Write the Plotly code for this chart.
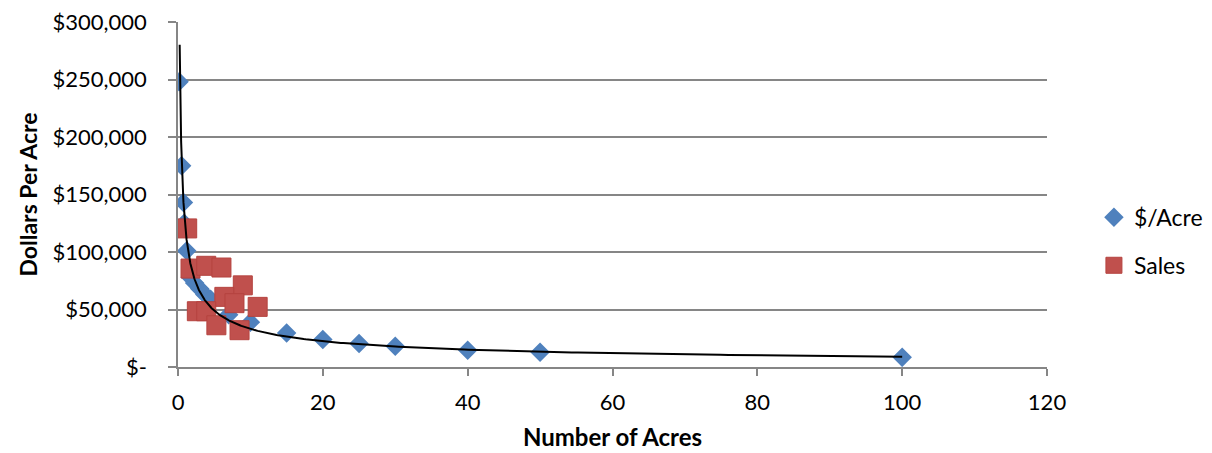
import numpy as np
import plotly.graph_objects as go

# $/Acre series
acres = [0.15, 0.5, 0.75, 0.85, 1.2, 1.7, 2.3, 3.0, 3.7, 4.5, 7.0, 10, 15, 20, 25, 30, 40, 50, 100]
dollars_per_acre = [248000, 175000, 143000, 125000, 101000, 78000, 73000, 68000, 63000, 59000,
                    45500, 39000, 29500, 24000, 20500, 18000, 14500, 12800, 8400]

# Sales series
sales_acres = [1.27, 1.73, 3.9, 6.0, 8.95, 6.4, 7.8, 11.0, 2.6, 3.9, 5.3, 8.5]
sales_dpa = [120500, 85600, 88000, 86500, 71000, 61000, 55500, 52300, 48500, 48500, 36300, 32000]

# power trendline coefficients y = A * x^B
TREND_A = 122000
TREND_B = -0.566
TREND_X_MIN = 0.23
TREND_X_MAX = 100

y_tickvals = [0, 50000, 100000, 150000, 200000, 250000, 300000]
y_ticktext = ["$-", "$50,000", "$100,000", "$150,000", "$200,000", "$250,000", "$300,000"]
x_tickvals = [0, 20, 40, 60, 80, 100, 120]

trend_x = np.logspace(np.log10(TREND_X_MIN), np.log10(TREND_X_MAX), 400)
trend_y = TREND_A * trend_x ** TREND_B

FONT = "Lato, Calibri, 'Open Sans', sans-serif"
GRID = "#868686"

fig = go.Figure()
fig.add_trace(go.Scatter(
    x=acres, y=dollars_per_acre, mode="markers", name="$/Acre",
    legendgroup="a",
    marker=dict(symbol="diamond", size=15, color="#4F81BD", line=dict(width=0)),
))
fig.add_trace(go.Scatter(
    x=sales_acres, y=sales_dpa, mode="markers", name="Sales",
    legendgroup="b",
    marker=dict(symbol="square", size=19, color="#C0504D",
                line=dict(width=1, color="#B5433F")),
))
fig.add_trace(go.Scatter(
    x=trend_x, y=trend_y, mode="lines", showlegend=False,
    line=dict(color="black", width=2), hoverinfo="skip",
))

fig.update_layout(
    width=1212, height=453,
    margin=dict(l=170, r=173, t=14, b=94),
    plot_bgcolor="white", paper_bgcolor="white",
    font=dict(family=FONT, size=22, color="black"),
    legend=dict(x=1.054, y=0.364, xanchor="left", yanchor="middle",
                font=dict(size=23), tracegroupgap=15, bgcolor="rgba(0,0,0,0)"),
    xaxis=dict(
        range=[0, 120], tickvals=x_tickvals, showgrid=False, zeroline=False,
        automargin=True,
        showline=True, linecolor=GRID, linewidth=1.5,
        ticks="outside", ticklen=7, tickcolor=GRID, tickwidth=1.5,
        ticklabelstandoff=8, ticklabeloverflow="allow",
        tickfont=dict(size=22),
        title=dict(text="<b>Number of Acres</b>", font=dict(size=24), standoff=15),
    ),
    yaxis=dict(
        range=[0, 300001], tickvals=y_tickvals, ticktext=y_ticktext,
        automargin=False,
        showgrid=True, gridcolor=GRID, gridwidth=1.5, zeroline=False,
        showline=True, linecolor=GRID, linewidth=1.5,
        ticks="outside", ticklen=8, tickcolor=GRID, tickwidth=1.5,
        ticklabelstandoff=17, ticklabeloverflow="allow",
        tickfont=dict(size=22),
        title=dict(text="<b>Dollars Per Acre</b>", font=dict(size=23), standoff=8),
    ),
)

fig.write_html("out.html")
